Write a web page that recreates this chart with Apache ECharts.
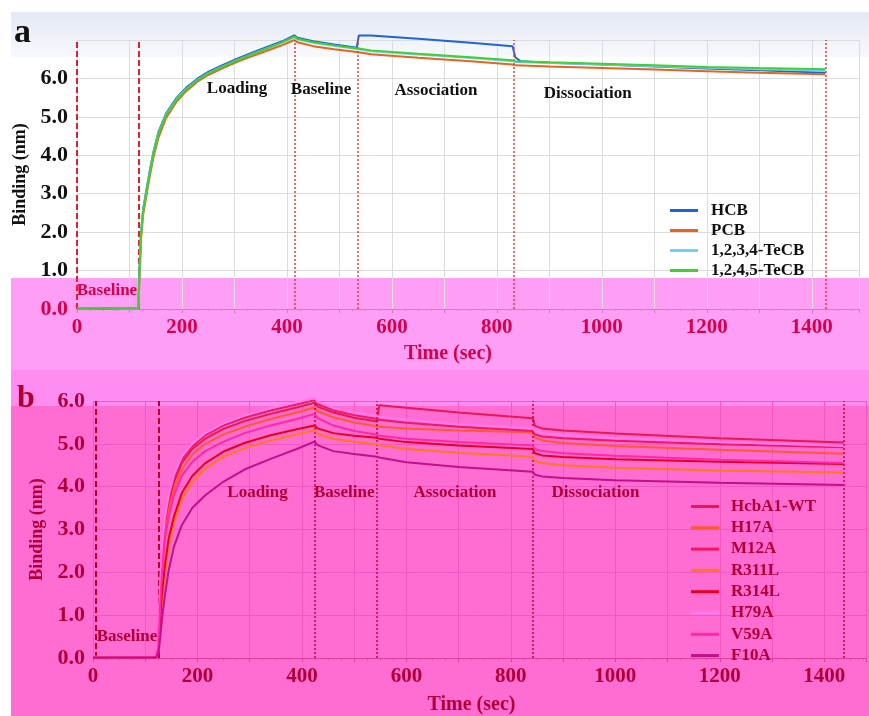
<!DOCTYPE html>
<html><head><meta charset="utf-8">
<script src="https://cdn.jsdelivr.net/npm/echarts@6/dist/echarts.min.js"></script>
<style>html,body{margin:0;padding:0;background:#fff}#c{width:869px;height:716px}</style>
</head><body><div id="c"></div>
<script>
// ---------- Panel a data ----------
const namesA = ['HCB', 'PCB', '1,2,3,4-TeCB', '1,2,4,5-TeCB'];
const colorsA = ['#1f63d8', '#e8641e', '#70d0f8', '#40d030'];
const hcb = [[0,0.02],[60,0.02],[117,0.03],[119,1.0],[122,2.0],[126,2.6],[131,3.0],[138,3.55],[145,4.05],[155,4.6],[170,5.1],[190,5.5],[208,5.76],[230,6.0],[250,6.17],[275,6.33],[303,6.5],[330,6.65],[362,6.82],[390,6.96],[414,7.12],[420,7.06],[450,6.97],[490,6.88],[533,6.8],[537,7.12],[560,7.12],[650,7.03],[750,6.93],[830,6.84],[835,6.55],[845,6.45],[900,6.41],[1000,6.36],[1100,6.31],[1200,6.26],[1300,6.21],[1426,6.15]];
const pcb = [[0,0.01],[117,0.02],[119,0.8],[122,1.8],[126,2.45],[131,2.85],[138,3.4],[145,3.9],[155,4.45],[170,4.98],[190,5.4],[208,5.67],[230,5.92],[250,6.09],[275,6.25],[303,6.42],[330,6.56],[362,6.72],[390,6.86],[414,7.0],[420,6.94],[450,6.84],[490,6.76],[533,6.69],[537,6.68],[560,6.63],[650,6.54],[750,6.45],[830,6.36],[835,6.34],[900,6.31],[1000,6.27],[1100,6.23],[1200,6.19],[1300,6.15],[1426,6.11]];
const tecb1234 = [[0,0.02],[117,0.03],[119,1.0],[122,2.0],[126,2.58],[131,2.98],[138,3.52],[145,4.02],[155,4.57],[170,5.07],[190,5.47],[208,5.73],[230,5.97],[250,6.14],[275,6.3],[303,6.47],[330,6.62],[362,6.79],[390,6.93],[414,7.08],[420,7.02],[450,6.93],[490,6.85],[533,6.77],[537,6.76],[560,6.71],[650,6.62],[750,6.53],[830,6.45],[835,6.43],[900,6.4],[1000,6.36],[1100,6.32],[1200,6.28],[1300,6.24],[1426,6.2]];
const tecb1245 = [[0,0.02],[117,0.03],[119,0.95],[122,1.95],[126,2.55],[131,2.95],[138,3.5],[145,4.0],[155,4.55],[170,5.05],[190,5.45],[208,5.72],[230,5.96],[250,6.13],[275,6.29],[303,6.46],[330,6.61],[362,6.78],[390,6.93],[414,7.09],[420,7.03],[450,6.94],[490,6.86],[533,6.78],[537,6.78],[560,6.73],[650,6.64],[750,6.55],[830,6.47],[835,6.45],[900,6.42],[1000,6.38],[1100,6.34],[1200,6.3],[1300,6.27],[1426,6.24]];
const seriesA = [hcb, pcb, tecb1234, tecb1245];
const stepsA = [0, 117, 414, 534, 833, 1426];
const phaseNamesA = ['Baseline', 'Loading', 'Baseline', 'Association', 'Dissociation'];
const phaseAnchorsA = [[57,0.49],[305,5.74],[465,5.71],[684,5.68],[973,5.6]];
const xTicksA = [0, 200, 400, 600, 800, 1000, 1200, 1400];

// ---------- Panel b data ----------
const namesB = ['HcbA1-WT', 'H17A', 'M12A', 'R311L', 'R314L', 'H79A', 'V59A', 'F10A'];
const colorsB = ['#e81850', '#ff5a28', '#f01860', '#ff7a10', '#e8001e', '#ff7af0', '#ff28a8', '#c0108c'];
const wt = [[0,0.02],[120,0.02],[125,0.3],[128,1.4],[132,2.4],[138,3.1],[145,3.6],[155,4.1],[170,4.55],[190,4.88],[215,5.12],[250,5.35],[290,5.53],[340,5.7],[390,5.85],[424,5.96],[430,5.87],[460,5.73],[500,5.61],[544,5.52],[548,5.9],[600,5.84],[700,5.73],[842,5.6],[846,5.42],[860,5.36],[900,5.31],[1000,5.24],[1200,5.13],[1437,5.03]];
const h17a = [[0,0.02],[120,0.02],[125,0.25],[128,1.2],[132,2.2],[138,2.95],[145,3.45],[155,3.95],[170,4.4],[190,4.75],[215,5.0],[250,5.22],[290,5.4],[340,5.58],[390,5.73],[424,5.85],[430,5.76],[460,5.62],[500,5.5],[544,5.41],[548,5.4],[600,5.36],[700,5.31],[842,5.27],[846,5.15],[860,5.08],[900,5.02],[1000,4.95],[1200,4.86],[1437,4.77]];
const m12a = [[0,0.02],[120,0.02],[125,0.35],[128,1.5],[132,2.5],[138,3.2],[145,3.72],[155,4.2],[170,4.63],[190,4.94],[215,5.2],[250,5.43],[290,5.61],[340,5.78],[390,5.92],[424,6.02],[430,5.93],[460,5.78],[500,5.67],[544,5.58],[548,5.56],[600,5.49],[700,5.4],[842,5.3],[846,5.22],[860,5.17],[900,5.13],[1000,5.07],[1200,4.99],[1437,4.92]];
const r311l = [[0,0.01],[120,0.01],[125,0.12],[128,0.7],[132,1.35],[138,2.0],[145,2.6],[155,3.15],[170,3.7],[190,4.1],[215,4.42],[250,4.7],[290,4.9],[340,5.08],[390,5.22],[424,5.32],[430,5.24],[460,5.12],[500,5.05],[544,4.99],[548,4.97],[600,4.88],[700,4.79],[842,4.7],[846,4.6],[860,4.55],[900,4.5],[1000,4.44],[1200,4.38],[1437,4.33]];
const r314l = [[0,0.01],[120,0.01],[125,0.15],[128,0.8],[132,1.5],[138,2.2],[145,2.8],[155,3.3],[170,3.85],[190,4.25],[215,4.55],[250,4.82],[290,5.02],[340,5.2],[390,5.34],[424,5.43],[430,5.36],[460,5.25],[500,5.19],[544,5.14],[548,5.12],[600,5.04],[700,4.96],[842,4.88],[846,4.78],[860,4.73],[900,4.69],[1000,4.64],[1200,4.58],[1437,4.53]];
const h79a = [[0,0.03],[120,0.03],[125,0.4],[128,1.6],[132,2.6],[138,3.3],[145,3.8],[155,4.28],[170,4.7],[190,5.0],[215,5.25],[250,5.48],[290,5.66],[340,5.83],[390,5.97],[424,6.07],[430,5.98],[460,5.84],[500,5.73],[544,5.65],[548,5.63],[600,5.56],[700,5.46],[842,5.36],[846,5.3],[860,5.25],[900,5.2],[1000,5.13],[1200,5.04],[1437,4.95]];
const v59a = [[0,0.02],[120,0.02],[125,0.25],[128,1.1],[132,2.0],[138,2.8],[145,3.3],[155,3.8],[170,4.25],[190,4.58],[215,4.83],[250,5.05],[290,5.25],[340,5.43],[390,5.58],[424,5.7],[430,5.6],[460,5.43],[500,5.3],[544,5.21],[548,5.19],[600,5.12],[700,5.04],[842,4.96],[846,4.88],[860,4.83],[900,4.78],[1000,4.72],[1200,4.63],[1437,4.55]];
const f10a = [[0,0.01],[120,0.01],[125,0.08],[128,0.4],[132,0.9],[138,1.5],[145,2.05],[155,2.6],[170,3.1],[190,3.5],[215,3.8],[250,4.12],[290,4.4],[340,4.65],[390,4.88],[424,5.05],[430,4.97],[460,4.83],[500,4.76],[544,4.7],[548,4.68],[600,4.57],[700,4.46],[842,4.35],[846,4.28],[860,4.24],[900,4.2],[1000,4.15],[1200,4.09],[1437,4.04]];
const seriesB = [wt, h17a, m12a, r311l, r314l, h79a, v59a, f10a];
const stepsB = [5, 125, 424, 544, 842, 1437];
const phaseNamesB = ['Baseline', 'Loading', 'Baseline', 'Association', 'Dissociation'];
const phaseAnchorsB = [[65,0.5],[315,3.87],[481,3.87],[693,3.87],[962,3.87]];
const xTicksB = [0, 200, 400, 600, 800, 1000, 1200, 1400];

// ---------- styling ----------
const SERIF = '"Liberation Serif", "Times New Roman", serif';
const CRIMSON = '#d6004c';
const DARKRED = '#b0003a';

function stepLines(steps, thick, thin) {
  return steps.map((t, i) => ({
    xAxis: t,
    lineStyle: i < 2
      ? { color: thick, width: 2, type: [6, 3] }
      : { color: thin, width: 1.5, type: [2, 2] }
  }));
}

const series = [];
seriesA.forEach((d, i) => {
  const s = {
    name: namesA[i], type: 'line', xAxisIndex: 0, yAxisIndex: 0, data: d,
    showSymbol: false, clip: false, color: colorsA[i],
    lineStyle: { width: 2 }, z: 3 + i, silent: true
  };
  if (i === 0) {
    s.markLine = { symbol: 'none', silent: true, label: { show: false },
      data: stepLines(stepsA, '#e0202a', '#e83a3a') };
  }
  series.push(s);
});
series.push({
  type: 'scatter', xAxisIndex: 0, yAxisIndex: 0, symbolSize: 1, silent: true, z: 10,
  itemStyle: { color: 'rgba(0,0,0,0)', opacity: 1 },
  labelLayout: { hideOverlap: false },
  data: phaseAnchorsA.map((p, i) => ({ value: p, name: phaseNamesA[i],
    label: { color: i === 0 ? CRIMSON : '#111' } })),
  label: { show: true, position: 'inside', formatter: p => p.name, opacity: 1,
    textBorderWidth: 0, fontFamily: SERIF, fontWeight: 'bold', fontSize: 17 }
});
seriesB.forEach((d, i) => {
  const s = {
    name: namesB[i], type: 'line', xAxisIndex: 1, yAxisIndex: 1, data: d,
    showSymbol: false, clip: false, color: colorsB[i],
    lineStyle: { width: 2 }, z: 3 + i, silent: true
  };
  if (i === 0) {
    s.markLine = { symbol: 'none', silent: true, label: { show: false },
      data: stepLines(stepsB, '#b8002a', '#c8003a') };
  }
  series.push(s);
});
series.push({
  type: 'scatter', xAxisIndex: 1, yAxisIndex: 1, symbolSize: 1, silent: true, z: 10,
  itemStyle: { color: 'rgba(0,0,0,0)', opacity: 1 },
  labelLayout: { hideOverlap: false },
  data: phaseAnchorsB.map((p, i) => ({ value: p, name: phaseNamesB[i] })),
  label: { show: true, position: 'inside', formatter: p => p.name, opacity: 1,
    textBorderWidth: 0, fontFamily: SERIF, fontWeight: 'bold', fontSize: 17, color: DARKRED }
});

function xAxisCfg(grid, max, ticks, labelColor, splitColor, lineColor, gap) {
  return {
    gridIndex: grid, type: 'value', min: 0, max: max, interval: 100,
    name: 'Time (sec)', nameLocation: 'middle', nameGap: gap,
    nameTextStyle: { fontFamily: SERIF, fontWeight: 'bold', fontSize: 20, color: labelColor,
      padding: grid === 0 ? [0, 40, 0, 0] : [0, 16, 0, 0] },
    axisLabel: { formatter: v => ticks.indexOf(v) >= 0 ? String(v) : '',
      color: labelColor, fontFamily: SERIF, fontWeight: 'bold', fontSize: 21, margin: 8 },
    axisLine: { show: true, lineStyle: { color: lineColor, width: 1 } },
    axisTick: { show: true, length: 4, lineStyle: { color: lineColor } },
    minorTick: { show: true, splitNumber: 4, length: 2, lineStyle: { color: lineColor } },
    splitLine: { show: true, lineStyle: { color: splitColor, width: 1 } }
  };
}

const option = {
  backgroundColor: '#ffffff',
  animation: false,
  title: [
    { text: 'a', left: 14, top: 16, padding: 0,
      textStyle: { fontFamily: SERIF, fontWeight: 'bold', fontSize: 34, color: '#111' } },
    { text: 'b', left: 17, top: 383, padding: 0,
      textStyle: { fontFamily: SERIF, fontWeight: 'bold', fontSize: 32, color: '#b0002a' } }
  ],
  graphic: [
    { type: 'rect', z: -100, shape: { x: 11, y: 12, width: 858, height: 45 },
      style: { fill: { type: 'linear', x: 0, y: 0, x2: 0, y2: 1,
        colorStops: [{ offset: 0, color: '#e3e8f3' }, { offset: 1, color: '#f7f9fc' }] } } },
    { type: 'rect', z: -100, shape: { x: 11, y: 278, width: 858, height: 92 },
      style: { fill: '#ff9ef5' } },
    { type: 'rect', z: -100, shape: { x: 11, y: 370, width: 858, height: 36 },
      style: { fill: '#ff8cf0' } },
    { type: 'rect', z: -100, shape: { x: 11, y: 406, width: 858, height: 310 },
      style: { fill: '#ff6cd2' } }
  ],
  grid: [
    { left: 77, top: 40, width: 782, height: 269 },
    { left: 93, top: 401, width: 775, height: 273 }
  ],
  legend: [
    { data: namesA, orient: 'vertical', left: 670, top: 202, padding: 0,
      itemWidth: 28, itemHeight: 3, itemGap: 3, icon: 'rect',
      textStyle: { fontFamily: SERIF, fontWeight: 'bold', fontSize: 17, lineHeight: 17,
        color: '#111', padding: [0, 0, 0, 8] } },
    { data: namesB, orient: 'vertical', left: 691, top: 498, padding: 0,
      itemWidth: 28, itemHeight: 3, itemGap: 4.3, icon: 'rect',
      textStyle: { fontFamily: SERIF, fontWeight: 'bold', fontSize: 17, lineHeight: 17,
        color: DARKRED, padding: [0, 0, 0, 7] } }
  ],
  xAxis: [
    xAxisCfg(0, 1490, xTicksA, CRIMSON, '#dcdcdc', '#ee6ad6', 35),
    xAxisCfg(1, 1480, xTicksB, DARKRED, '#f258c4', '#e0409c', 37)
  ],
  yAxis: [
    { gridIndex: 0, type: 'value', min: 0, max: 7, interval: 1,
      name: 'Binding (nm)', nameLocation: 'middle', nameGap: 46, nameRotate: 90,
      nameTextStyle: { fontFamily: SERIF, fontWeight: 'bold', fontSize: 18, color: '#111' },
      axisLabel: { formatter: v => v < 6.5 ? v.toFixed(1) : '',
        color: v => Number(v) < 0.5 ? CRIMSON : '#111',
        fontFamily: SERIF, fontWeight: 'bold', fontSize: 22, margin: 9 },
      axisLine: { show: false }, axisTick: { show: false },
      splitLine: { show: true, lineStyle: { color: '#dcdcdc' } } },
    { gridIndex: 1, type: 'value', min: 0, max: 6, interval: 1,
      name: 'Binding (nm)', nameLocation: 'middle', nameGap: 36, nameRotate: 90,
      nameTextStyle: { fontFamily: SERIF, fontWeight: 'bold', fontSize: 18, color: DARKRED },
      axisLabel: { formatter: v => v.toFixed(1),
        color: DARKRED, fontFamily: SERIF, fontWeight: 'bold', fontSize: 22, margin: 8 },
      axisLine: { show: false }, axisTick: { show: false },
      splitLine: { show: true, lineStyle: { color: '#f258c4' } } }
  ],
  series: series
};

const chart = echarts.init(document.getElementById('c'), null, { renderer: 'canvas' });
chart.setOption(option);
</script>
</body></html>
